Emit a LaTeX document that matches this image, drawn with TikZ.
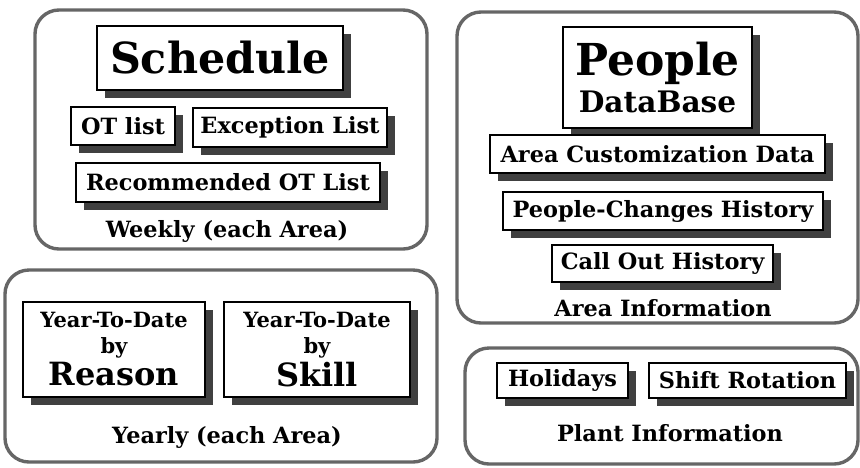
\documentclass[tikz,border=0pt]{standalone}
\usepackage{fontspec}
\setmainfont{DejaVu Serif}
\usetikzlibrary{shadows,positioning}

\begin{document}
\begin{tikzpicture}[x=0.5pt,y=-0.5pt,
  frame/.style={draw=black!60,line width=1.7pt,rounded corners=12pt},
  item/.style={draw,line width=0.8pt,fill=white,inner sep=0pt,align=center,
               font=\fontsize{11.2}{13}\selectfont\bfseries,
               drop shadow={shadow xshift=4pt,shadow yshift=-4pt,fill=black!75,opacity=1}},
  grouplbl/.style={font=\fontsize{11.2}{13}\selectfont\bfseries}
]
\useasboundingbox (0,0) rectangle (860,467);

% Group frames
\draw[frame] (35,10)  rectangle (427,249);
\draw[frame] (457,12) rectangle (858,323);
\draw[frame] (5,270)  rectangle (437,462);
\draw[frame] (465,348) rectangle (858,464);

% Weekly (each Area)
\node[item,minimum width=123pt,minimum height=32pt,font=\fontsize{21.4}{22}\selectfont\bfseries]
  (sched) at (220,58) {Schedule};
\node[item,minimum width=52pt,minimum height=19pt]  (otlist) at (123,126)   {OT list};
\node[item,minimum width=97pt,minimum height=19.5pt] (exlist) at (290,127.5) {Exception List};
\node[item,minimum width=152pt,minimum height=19.5pt] (reclist) at (228,182.5) {Recommended OT List};
\node[grouplbl] (weekly) at (227,231) {Weekly (each Area)};

% Area information
\node[item,minimum width=94.5pt,minimum height=50.5pt] (people) at (657.5,77.5)
  {{\fontsize{22}{20}\selectfont People}\\[2pt]{\fontsize{14.8}{17}\selectfont DataBase}};
\node[item,minimum width=167.5pt,minimum height=19pt] (custom) at (657.5,154) {Area Customization Data};
\node[item,minimum width=160pt,minimum height=19pt]   (changes) at (663,211)   {People-Changes History};
\node[item,minimum width=110.5pt,minimum height=18.5pt] (callout) at (662.5,263.5) {Call Out History};
\node[grouplbl] (area) at (663,308) {Area Information};

% Yearly (each Area)
\node[item,minimum width=91pt,minimum height=47.5pt,font=\fontsize{10.5}{13}\selectfont\bfseries]
  (reason) at (114,349.5) {Year-To-Date\\by\\[1pt]{\fontsize{16}{15}\selectfont Reason}};
\node[item,minimum width=93pt,minimum height=47.5pt,font=\fontsize{10.5}{13}\selectfont\bfseries]
  (skill) at (317,349.5) {Year-To-Date\\by\\[1pt]{\fontsize{16}{15}\selectfont Skill}};
\node[grouplbl] (yearly) at (227,437) {Yearly (each Area)};

% Plant information
\node[item,minimum width=65.5pt,minimum height=17.5pt] (holidays) at (562.5,380.5) {Holidays};
\node[item,minimum width=98.5pt,minimum height=17.5pt] (shift) at (747.5,380.5) {Shift Rotation};
\node[grouplbl] (plant) at (670,433) {Plant Information};
\end{tikzpicture}
\end{document}
